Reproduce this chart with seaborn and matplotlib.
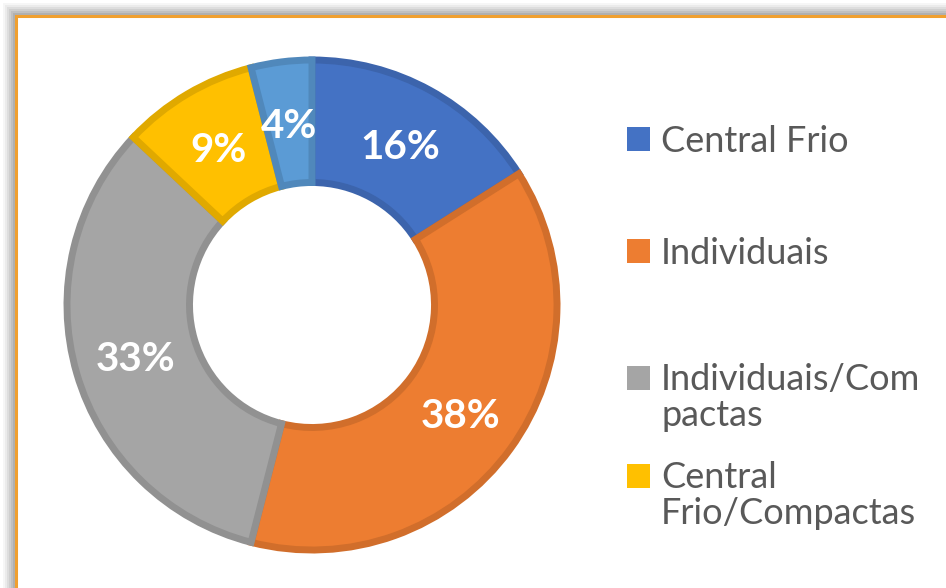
import matplotlib
matplotlib.use("Agg")
import matplotlib.pyplot as plt
from matplotlib.patches import Rectangle
import seaborn as sns

# data
categories = ["Central Frio", "Individuais", "Individuais/Compactas",
              "Central Frio/Compactas", "Outros"]
shares = [16, 38, 33, 9, 4]
legend_labels = ["Central Frio", "Individuais", "Individuais/Com\npactas",
                 "Central\nFrio/Compactas"]

sns.set_theme(style="white")
plt.rcParams['font.family'] = ['Lato', 'DejaVu Sans']

palette = sns.color_palette(["#4472C4", "#ED7D31", "#A5A5A5", "#FFC000", "#5B9BD5"])
edges = [tuple(c * 0.88 for c in col) for col in palette]

W, H = 946, 588
fig = plt.figure(figsize=(W / 100, H / 100), dpi=100)
fig.patch.set_facecolor("white")

# soft shadow + orange frame (cut on right/bottom like the screenshot)
for i, a in enumerate([0.07, 0.09, 0.12, 0.15, 0.19, 0.24]):
    off = 3 + 2 * (5 - i)
    fig.patches.append(Rectangle(((16 - off) / W, -0.1), 1.2, (H - 16 + off) / H + 0.1,
                                 transform=fig.transFigure, facecolor="gray",
                                 edgecolor="none", alpha=a, zorder=0))
fig.patches.append(Rectangle((16 / W, -0.1), 1.2, (H - 16) / H + 0.1,
                             transform=fig.transFigure, facecolor="white",
                             edgecolor="#F0A030", linewidth=2.2, zorder=1))

# donut axes: centre (312, 305) px, outer radius 245 px
cx, cy, R = 312, 305, 245
half = R * 1.02
ax = fig.add_axes([(cx - half) / W, (H - cy - half) / H, 2 * half / W, 2 * half / H])
ax.set_zorder(2)
ax.patch.set_alpha(0)

wedges, texts, autotexts = ax.pie(
    shares, colors=palette, startangle=90, counterclock=False,
    radius=1, autopct="%1.0f%%", pctdistance=0.75,
    wedgeprops=dict(width=0.5, linewidth=5, joinstyle="miter"),
    textprops=dict(color="white", fontsize=29, fontweight="bold"))
for w, e in zip(wedges, edges):
    w.set_edgecolor(e)
for t in autotexts:
    t.set_va("center_baseline")
ax.set_xlim(-1.02, 1.02)
ax.set_ylim(-1.02, 1.02)
ax.set_aspect("equal")
ax.axis("off")

# legend entries, spaced like the original; square sits on the first line
legend_y = [141, 253, 380, 478]
line_gap = 36
for w, lab, y in zip(wedges, legend_labels, legend_y):
    lines = lab.split("\n")
    leg = fig.legend([w], [lines[0]], loc="center left",
                     bbox_to_anchor=(594 / W, (H - y) / H),
                     frameon=False, fontsize=26, handlelength=0.65,
                     handleheight=0.65, handletextpad=0.3,
                     labelcolor="#595959")
    for h in leg.legend_handles:
        h.set_linewidth(0)
    leg.set_zorder(3)
    for k, extra in enumerate(lines[1:], start=1):
        fig.text(661 / W, (H - y - k * line_gap) / H, extra, fontsize=26,
                 color="#595959", va="center", ha="left", zorder=3)

fig.savefig("out.png", dpi=100)
